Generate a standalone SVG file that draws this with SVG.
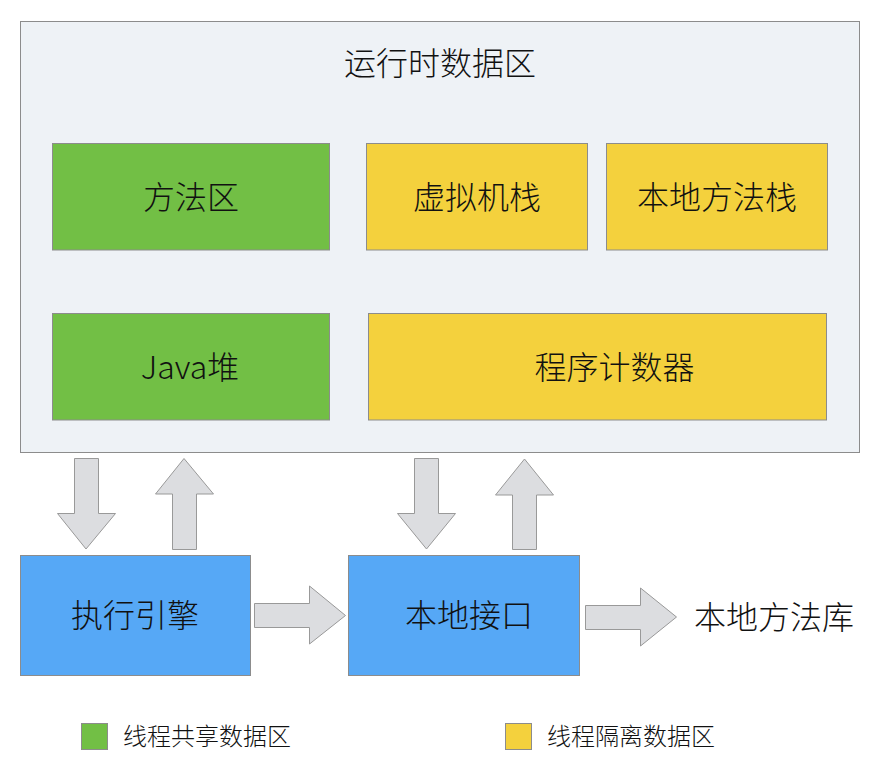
<svg xmlns="http://www.w3.org/2000/svg" width="886" height="780" viewBox="0 0 886 780">
<style>
text{font-family:"Noto Sans CJK SC","Noto Sans",sans-serif;fill:#111;font-weight:300;}
.t{font-size:32px;text-anchor:middle;}
.l{font-size:24px;}
.box{stroke:#8c8c8c;stroke-width:1;}
.g{fill:#72bf45;}
.y{fill:#f4d13d;}
.b{fill:#56a8f6;}
.arr{fill:#dcdde0;stroke:#999;stroke-width:1;}
</style>
<rect x="0" y="0" width="886" height="780" fill="#fff"/>
<g id="runtime">
<rect class="box" x="20.5" y="21.5" width="839" height="431" fill="#eef2f6"/>
<text class="t" x="440" y="75">运行时数据区</text>
</g>
<g id="method-area">
<rect class="box g" x="52.5" y="143.5" width="277" height="106.5"/>
<text class="t" x="191" y="209">方法区</text>
</g>
<g id="vm-stack">
<rect class="box y" x="366.5" y="143.5" width="221" height="106.5"/>
<text class="t" x="477" y="209">虚拟机栈</text>
</g>
<g id="native-stack">
<rect class="box y" x="606.5" y="143.5" width="221" height="106.5"/>
<text class="t" x="717" y="209">本地方法栈</text>
</g>
<g id="heap">
<rect class="box g" x="52.5" y="313.5" width="277" height="106.5"/>
<text class="t" x="190" y="379">Java堆</text>
</g>
<g id="pc">
<rect class="box y" x="368.5" y="313.5" width="458" height="106.5"/>
<text class="t" x="614.5" y="379">程序计数器</text>
</g>
<g id="engine">
<rect class="box b" x="20.5" y="555.5" width="230" height="120"/>
<text class="t" x="135" y="627">执行引擎</text>
</g>
<g id="native-interface">
<rect class="box b" x="348.5" y="555.5" width="231" height="120"/>
<text class="t" x="469" y="627">本地接口</text>
</g>
<g id="native-lib">
<text style="font-size:32px" x="694" y="629">本地方法库</text>
</g>
<g id="connectors">
<polygon class="arr" points="74.5,458.5 98.5,458.5 98.5,513.5 115.5,513.5 86,549 57.5,513.5 74.5,513.5"/>
<polygon class="arr" points="184,458.5 213.5,494 196.5,494 196.5,549.5 172.5,549.5 172.5,494 155.5,494"/>
<polygon class="arr" points="414.5,458.5 438.5,458.5 438.5,513.5 455.5,513.5 426.5,549 397.5,513.5 414.5,513.5"/>
<polygon class="arr" points="524.5,459 553.5,495 536.5,495 536.5,549.5 512.5,549.5 512.5,495 495.5,495"/>
<polygon class="arr" points="254.5,603.5 309.5,603.5 309.5,586 345.5,615.5 309.5,644 309.5,627.5 254.5,627.5"/>
<polygon class="arr" points="585.5,605.5 640.5,605.5 640.5,588 676.5,617 640.5,646 640.5,629.5 585.5,629.5"/>
</g>
<g id="legend">
<rect class="box g" x="81.5" y="723.5" width="26" height="26"/>
<text class="l" x="123" y="745">线程共享数据区</text>
<rect class="box y" x="505.5" y="723.5" width="26" height="26"/>
<text class="l" x="547" y="745">线程隔离数据区</text>
</g>
</svg>
